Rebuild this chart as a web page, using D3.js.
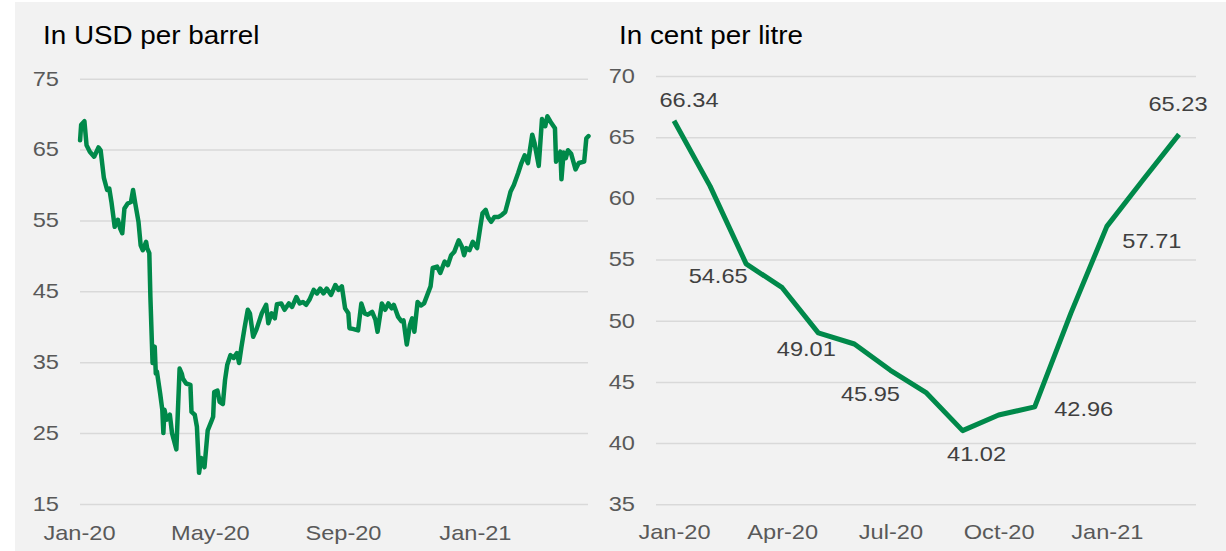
<!DOCTYPE html>
<html>
<head>
<script src="https://cdn.jsdelivr.net/npm/d3@7"></script>
<style>
  body { margin: 0; background: #fff; }
  svg { display: block; font-family: Arial, "Liberation Sans", sans-serif; }
  .grid line { stroke: #d9d9d9; stroke-width: 1.5px; }
  .grid path { display: none; }
  .tick text { fill: #595959; font-size: 20px; }
  .title { fill: #000; font-size: 26.5px; }
  .dlabel { fill: #404040; font-size: 20px; }
</style>
</head>
<body>
<svg width="1226" height="551"></svg>
<script>
// left panel: crude oil, USD per barrel
const brentDates = [
  "2020-01-02","2020-01-03","2020-01-06","2020-01-08","2020-01-11","2020-01-15","2020-01-19","2020-01-21",
  "2020-01-24","2020-01-27","2020-01-29","2020-01-31","2020-02-03","2020-02-06","2020-02-08","2020-02-10",
  "2020-02-12","2020-02-15","2020-02-18","2020-02-20","2020-02-22","2020-02-25","2020-02-27","2020-02-29",
  "2020-03-03","2020-03-04","2020-03-06","2020-03-07","2020-03-09","2020-03-11","2020-03-12","2020-03-13",
  "2020-03-16","2020-03-18","2020-03-19","2020-03-20","2020-03-22","2020-03-25","2020-03-27","2020-03-31",
  "2020-04-03","2020-04-05","2020-04-06","2020-04-09","2020-04-13","2020-04-14","2020-04-17","2020-04-19",
  "2020-04-21","2020-04-23","2020-04-26","2020-04-29","2020-05-03","2020-05-04","2020-05-05","2020-05-08",
  "2020-05-10","2020-05-13","2020-05-15","2020-05-17","2020-05-20","2020-05-23","2020-05-26","2020-05-28",
  "2020-05-30","2020-06-02","2020-06-05","2020-06-07","2020-06-10","2020-06-13","2020-06-18","2020-06-22",
  "2020-06-24","2020-06-27","2020-06-30","2020-07-02","2020-07-06","2020-07-09","2020-07-13","2020-07-16",
  "2020-07-20","2020-07-23","2020-07-26","2020-07-29","2020-08-01","2020-08-05","2020-08-08","2020-08-11",
  "2020-08-14","2020-08-17","2020-08-21","2020-08-25","2020-08-28","2020-08-31","2020-09-03","2020-09-06",
  "2020-09-07","2020-09-10","2020-09-15","2020-09-18","2020-09-21","2020-09-24","2020-09-28","2020-10-01",
  "2020-10-03","2020-10-07","2020-10-10","2020-10-13","2020-10-16","2020-10-18","2020-10-22","2020-10-25",
  "2020-10-27","2020-10-30","2020-11-02","2020-11-04","2020-11-06","2020-11-09","2020-11-12","2020-11-15",
  "2020-11-18","2020-11-21","2020-11-23","2020-11-27","2020-11-30","2020-12-04","2020-12-07","2020-12-10",
  "2020-12-13","2020-12-17","2020-12-20","2020-12-22","2020-12-24","2020-12-27","2020-12-30","2021-01-03",
  "2021-01-06","2021-01-08","2021-01-11","2021-01-13","2021-01-16","2021-01-19","2021-01-23","2021-01-26",
  "2021-01-29","2021-02-01","2021-02-03","2021-02-06","2021-02-10","2021-02-13","2021-02-16","2021-02-19",
  "2021-02-23","2021-02-25","2021-03-01","2021-03-04","2021-03-07","2021-03-09","2021-03-12","2021-03-16",
  "2021-03-17","2021-03-21","2021-03-22","2021-03-24","2021-03-26","2021-03-28","2021-03-31","2021-04-04",
  "2021-04-07","2021-04-12","2021-04-14","2021-04-16"
];
const brentValues = [
  66.3, 68.5, 69.0, 65.6, 64.7, 64.0, 65.3, 64.9,
  61.0, 59.3, 59.5, 57.6, 54.1, 55.1, 53.9, 53.2,
  56.7, 57.4, 57.6, 59.3, 57.4, 54.8, 51.5, 50.8,
  52.0, 51.1, 50.4, 44.2, 34.9, 37.2, 33.4, 33.7,
  30.6, 28.3, 25.0, 28.3, 26.9, 27.6, 25.0, 22.7,
  34.1, 33.4, 32.7, 32.0, 31.8, 28.0, 27.6, 25.9,
  19.4, 21.5, 20.2, 25.4, 26.9, 27.3, 30.8, 31.0,
  29.4, 29.1, 32.5, 34.6, 36.0, 35.6, 36.3, 34.9,
  37.0, 39.8, 42.4, 41.9, 38.6, 39.6, 41.9, 43.1,
  40.5, 41.9, 41.2, 43.2, 43.3, 42.4, 43.3, 42.8,
  44.2, 43.3, 43.5, 43.1, 43.8, 45.2, 44.7, 45.4,
  44.7, 45.4, 44.5, 45.9, 45.2, 45.7, 42.6, 41.9,
  39.8, 39.7, 39.5, 43.3, 41.9, 41.7, 42.1, 41.0,
  39.3, 43.3, 42.4, 43.3, 42.6, 43.1, 41.4, 40.8,
  40.9, 37.5, 40.3, 41.2, 39.3, 43.5, 43.0, 43.3,
  44.5, 45.7, 48.3, 48.5, 47.6, 49.2, 48.7, 50.1,
  50.6, 52.2, 51.3, 50.1, 51.1, 50.8, 52.0, 51.1,
  54.1, 56.0, 56.5, 55.5, 54.8, 55.5, 55.5, 55.8,
  56.2, 57.9, 59.1, 60.0, 61.7, 63.1, 64.2, 63.1,
  67.1, 66.0, 62.7, 69.3, 68.3, 69.7, 68.9, 68.0,
  63.3, 64.7, 60.8, 64.6, 63.8, 64.9, 64.4, 62.2,
  63.1, 63.3, 66.6, 66.9
];
const brentYTicks = [15, 25, 35, 45, 55, 65, 75];
const brentXTicks = ["2020-01-01", "2020-05-01", "2020-09-01", "2021-01-01"];

// right panel: cent per litre, monthly
const fuelMonths = ["Jan-20","Feb-20","Mar-20","Apr-20","May-20","Jun-20","Jul-20","Aug-20",
                    "Sep-20","Oct-20","Nov-20","Dec-20","Jan-21","Feb-21","Mar-21"];
const fuelValues = [66.34, 61.0, 54.65, 52.7, 49.01, 48.1, 45.95, 44.1,
                    41.02, 42.3, 42.96, 50.6, 57.71, 61.5, 65.23];
const fuelYTicks = [35, 40, 45, 50, 55, 60, 65, 70];
const fuelXTicks = ["Jan-20", "Apr-20", "Jul-20", "Oct-20", "Jan-21"];
const fuelLabelled = [0, 2, 4, 6, 8, 10, 12, 14];

// label placement relative to the point (dx, dy)
const labelOffsets = {
  0: [15, -14], 2: [-28, 19], 4: [-12, 23], 6: [-20, 31],
  8: [14, 30], 10: [49, 9], 12: [45, 22], 14: [-1, -23]
};

const green = "#00894a";
const textStretch = 1.18;

const svg = d3.select("svg");
svg.append("rect").attr("x", 15).attr("y", 2).attr("width", 1211).attr("height", 549).attr("fill", "#f2f2f2");

const parse = d3.timeParse("%Y-%m-%d");

function stretchText(sel, k) {
  sel.each(function () {
    const t = d3.select(this);
    const x = +t.attr("x") || 0;
    t.attr("x", 0).attr("transform", `translate(${x},0) scale(${k},1)`);
  });
}

// ---------- left chart ----------
const xL = d3.scaleTime()
  .domain([parse("2020-01-01"), parse("2021-04-16")])
  .range([79, 588.5]);
const yL = d3.scaleLinear().domain([15, 75]).range([504, 78.7]);

const gL = svg.append("g");
gL.append("g")
  .attr("class", "grid")
  .attr("transform", "translate(588,0)")
  .call(d3.axisLeft(yL).tickValues(brentYTicks).tickSize(508).tickPadding(21))
  .call(g => stretchText(g.selectAll("text"), textStretch));

gL.append("g")
  .attr("class", "grid")
  .attr("transform", "translate(0,504)")
  .call(d3.axisBottom(xL).tickValues(brentXTicks.map(parse)).tickSize(0).tickPadding(22)
    .tickFormat(d3.timeFormat("%b-%y")))
  .call(g => g.select(".domain").remove())
  .call(g => stretchText(g.selectAll("text"), textStretch));

const brent = brentDates.map((d, i) => ({ date: parse(d), value: brentValues[i] }));
gL.append("path")
  .datum(brent)
  .attr("fill", "none")
  .attr("stroke", green)
  .attr("stroke-width", 4.5)
  .attr("stroke-linejoin", "round")
  .attr("stroke-linecap", "round")
  .attr("d", d3.line().x(d => xL(d.date)).y(d => yL(d.value)));

gL.append("text").attr("class", "title")
  .attr("transform", "translate(43,44) scale(1.05,1)")
  .text("In USD per barrel");

// ---------- right chart ----------
const xR = d3.scalePoint().domain(fuelMonths).range([674, 1179]);
const yR = d3.scaleLinear().domain([35, 70]).range([504.3, 76]);

const gR = svg.append("g");
gR.append("g")
  .attr("class", "grid")
  .attr("transform", "translate(1196,0)")
  .call(d3.axisLeft(yR).tickValues(fuelYTicks).tickSize(540).tickPadding(21))
  .call(g => stretchText(g.selectAll("text"), textStretch));

gR.append("g")
  .attr("class", "grid")
  .attr("transform", "translate(0,504.3)")
  .call(d3.axisBottom(xR).tickValues(fuelXTicks).tickSize(0).tickPadding(21))
  .call(g => g.select(".domain").remove())
  .call(g => stretchText(g.selectAll("text"), textStretch));

gR.append("path")
  .datum(fuelValues)
  .attr("fill", "none")
  .attr("stroke", green)
  .attr("stroke-width", 5)
  .attr("stroke-linejoin", "round")
  .attr("d", d3.line().x((d, i) => xR(fuelMonths[i])).y(d => yR(d)));

gR.selectAll(".dlabel")
  .data(fuelLabelled)
  .join("text")
  .attr("class", "dlabel")
  .attr("text-anchor", "middle")
  .attr("transform", i => {
    const [dx, dy] = labelOffsets[i];
    return `translate(${xR(fuelMonths[i]) + dx},${yR(fuelValues[i]) + dy}) scale(${textStretch},1)`;
  })
  .text(i => fuelValues[i].toFixed(2));

gR.append("text").attr("class", "title")
  .attr("transform", "translate(619,44) scale(1.05,1)")
  .text("In cent per litre");
</script>
</body>
</html>
